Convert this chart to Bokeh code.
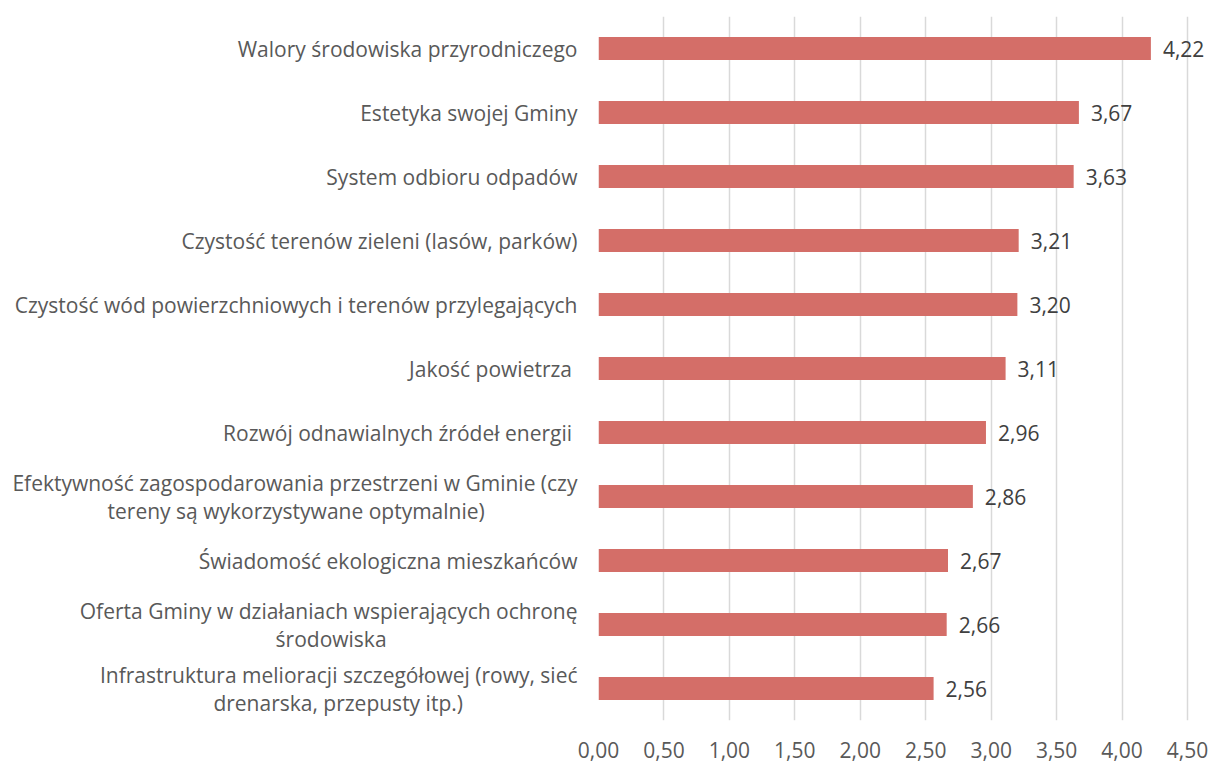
from bokeh.plotting import figure
from bokeh.models import ColumnDataSource, FactorRange, FixedTicker, CustomJSTickFormatter
from bokeh.core.properties import value
from bokeh.embed import file_html
from bokeh.resources import INLINE

categories = [
    "Walory środowiska przyrodniczego",
    "Estetyka swojej Gminy",
    "System odbioru odpadów",
    "Czystość terenów zieleni (lasów, parków)",
    "Czystość wód powierzchniowych i terenów przylegających",
    "Jakość powietrza ",
    "Rozwój odnawialnych źródeł energii ",
    "Efektywność zagospodarowania przestrzeni w Gminie (czy\ntereny są wykorzystywane optymalnie)" + " " * 17,
    "Świadomość ekologiczna mieszkańców",
    "Oferta Gminy w działaniach wspierających ochronę\nśrodowiska" + " " * 35,
    "Infrastruktura melioracji szczegółowej (rowy, sieć\ndrenarska, przepusty itp.)" + " " * 21,
]
values = [4.22, 3.67, 3.63, 3.21, 3.20, 3.11, 2.96, 2.86, 2.67, 2.66, 2.56]
x_ticks = [0, 0.5, 1.0, 1.5, 2.0, 2.5, 3.0, 3.5, 4.0, 4.5]

labels = [f"{v:.2f}".replace(".", ",") for v in values]
src = ColumnDataSource(dict(cat=categories, val=values, lab=labels))

FONT = "Open Sans"
GRAY = "#595959"

p = figure(
    width=1211, height=763,
    y_range=FactorRange(*reversed(categories)),
    x_range=(0, 4.683),
    output_backend="svg", toolbar_location=None,
    min_border_left=598, min_border_right=0, min_border_top=16, min_border_bottom=43,
)
p.outline_line_color = None
p.background_fill_color = "white"
p.border_fill_color = "white"

p.hbar(y="cat", right="val", left=0, height=0.36, source=src,
       fill_color="#D46E68", line_color=None)

p.text(x="val", y="cat", text="lab", source=src, x_offset=12,
       text_baseline="middle", text_align="left",
       text_font=value(FONT), text_font_size="21px", text_color="#404040")

p.xaxis.ticker = FixedTicker(ticks=x_ticks)
p.xaxis.formatter = CustomJSTickFormatter(code="return tick.toFixed(2).replace('.', ',');")
p.xaxis.axis_line_color = None
p.xaxis.major_tick_line_color = None
p.xaxis.minor_tick_line_color = None
p.xaxis.major_tick_out = 0
p.xaxis.major_tick_in = 0
p.xaxis.major_label_standoff = 21
p.xaxis.major_label_text_font = FONT
p.xaxis.major_label_text_font_size = "21px"
p.xaxis.major_label_text_color = GRAY

p.yaxis.axis_line_color = None
p.yaxis.major_tick_line_color = None
p.yaxis.minor_tick_line_color = None
p.yaxis.major_tick_out = 0
p.yaxis.major_tick_in = 0
p.yaxis.major_label_standoff = 21
p.yaxis.major_label_text_font = FONT
p.yaxis.major_label_text_font_size = "21px"
p.yaxis.major_label_text_line_height = 1.0
p.yaxis.major_label_text_color = GRAY

p.xgrid.grid_line_color = "#D9D9D9"
p.xgrid.grid_line_width = 1.5
p.ygrid.grid_line_color = None

open("out.html", "w").write(file_html(p, INLINE))
